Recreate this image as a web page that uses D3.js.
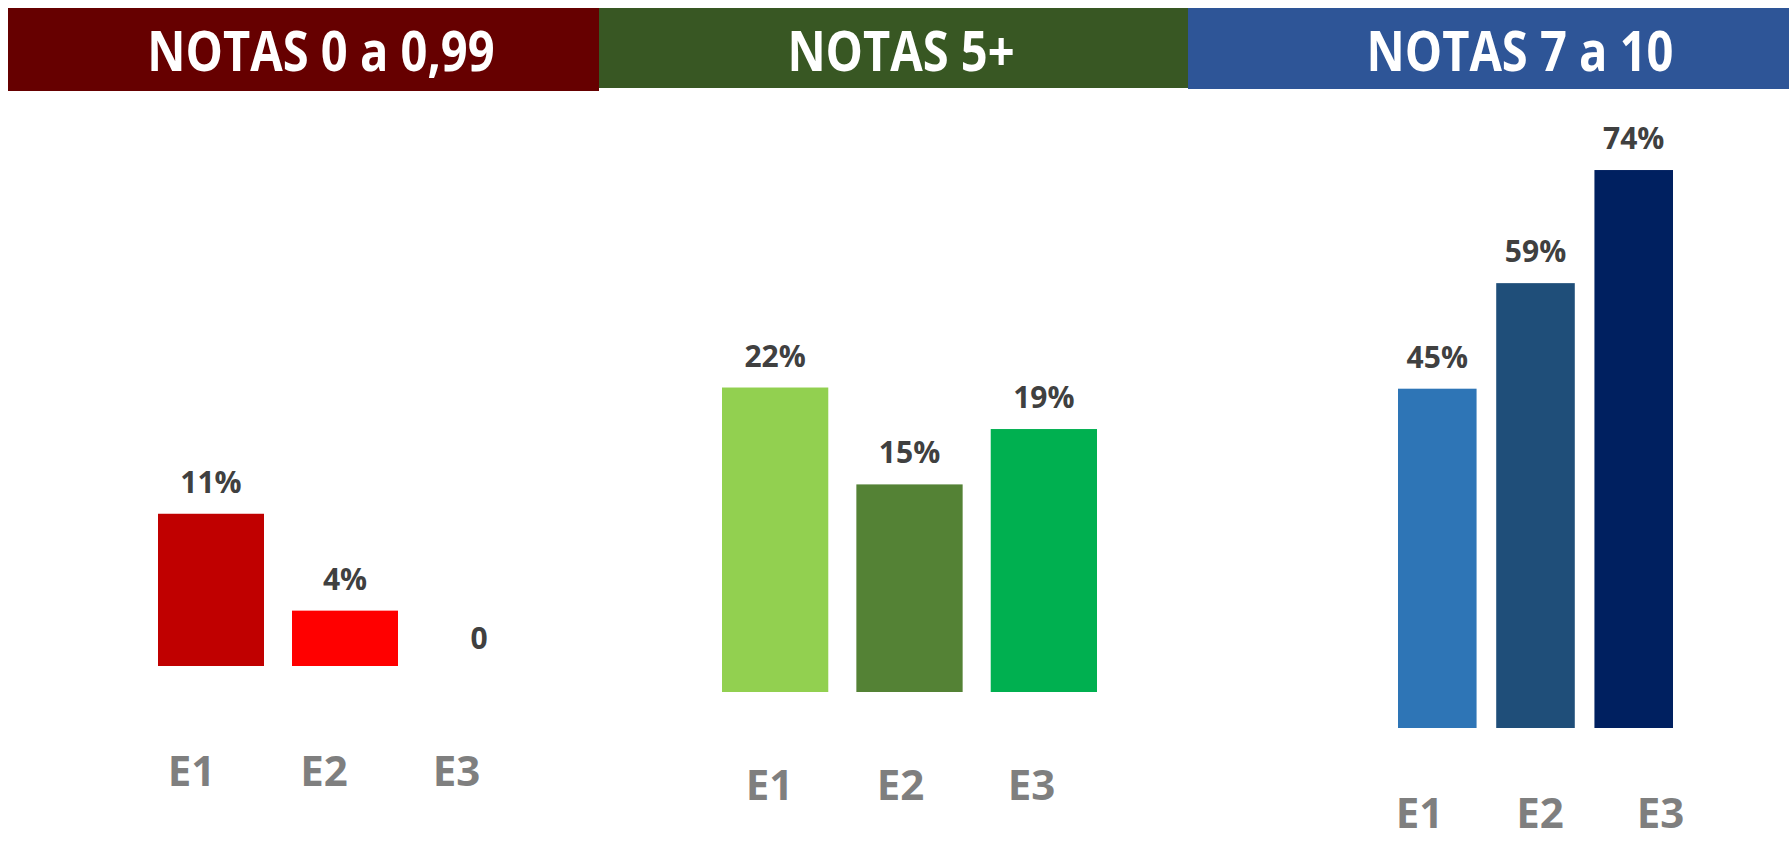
<!DOCTYPE html>
<html>
<head>
<meta charset="utf-8">
<script src="https://cdn.jsdelivr.net/npm/d3@7"></script>
<style>
  body { margin: 0; background: #fff; }
  svg { display: block; }
</style>
</head>
<body>
<div id="chart"></div>
<script>

// Data
const panelTitles = [ 'NOTAS 0 a 0,99', 'NOTAS 5+', 'NOTAS 7 a 10' ];
const stages = [ 'E1', 'E2', 'E3' ];
const notas0 = [ 11, 4, 0 ];     // % per stage, notas 0 a 0,99
const notas5 = [ 22, 15, 19 ];   // % per stage, notas 5+
const notas7 = [ 45, 59, 74 ];   // % per stage, notas 7 a 10

const headerColors = [ '#660000', '#385723', '#2e5597' ];
const barColors = [
  [ '#c00000', '#ff0000', '#ff0000' ],
  [ '#92d050', '#548235', '#00b050' ],
  [ '#2e75b6', '#1f4e79', '#002060' ]
];

const width = 1789, height = 842;

// Layout of each panel (pixels), separate from the data
const layout = [
  { hx: [ 8, 599 ],    hy: [ 8, 91 ], titleX: 321,  bx: [ 158, 532 ],   base: 666, k: 13.84, lx: [ 191, 456 ],   ly: 786, pad: 0.209 },
  { hx: [ 599, 1188 ], hy: [ 8, 88 ], titleX: 901,  bx: [ 722, 1097 ],  base: 692, k: 13.84, lx: [ 769, 1031 ],  ly: 800, pad: 0.209 },
  { hx: [ 1188, 1789 ], hy: [ 8, 89 ], titleX: 1520, bx: [ 1398, 1673 ], base: 728, k: 7.54,  lx: [ 1419, 1660 ], ly: 828, pad: 0.2 }
];

const series = [ notas0, notas5, notas7 ];

const svg = d3.select( '#chart' )
  .append( 'svg' )
    .attr( 'width', width )
    .attr( 'height', height );

series.forEach( function( values, i ) {
  const L = layout[i];
  const data = stages.map( function( s, j ) { return { stage: s, value: values[j], color: barColors[i][j] }; } );

  // Header band
  svg.append( 'rect' )
    .attr( 'x', L.hx[0] )
    .attr( 'y', L.hy[0] )
    .attr( 'width', L.hx[1] - L.hx[0] )
    .attr( 'height', L.hy[1] - L.hy[0] )
    .attr( 'fill', headerColors[i] );

  const title = svg.append( 'text' )
    .attr( 'x', L.titleX )
    .attr( 'y', 71 )
    .attr( 'text-anchor', 'middle' )
    .style( 'font-family', '"Open Sans", sans-serif' )
    .style( 'font-weight', 700 )
    .style( 'font-size', '55px' )
    .style( 'fill', '#fff' )
    .text( panelTitles[i] );
  // condense like Calibri
  const tw = title.node().getComputedTextLength();
  title.attr( 'textLength', tw * 0.855 ).attr( 'lengthAdjust', 'spacingAndGlyphs' );

  // Scales
  const x = d3.scaleBand()
    .domain( stages )
    .range( L.bx )
    .paddingInner( L.pad )
    .paddingOuter( 0 );

  const y = d3.scaleLinear()
    .domain( [ 0, 100 ] )
    .range( [ L.base, L.base - 100 * L.k ] );

  // Bars
  svg.append( 'g' )
    .selectAll( 'rect' )
    .data( data.filter( function( d ) { return d.value > 0; } ) )
    .enter()
    .append( 'rect' )
      .attr( 'x', function( d ) { return x( d.stage ); } )
      .attr( 'y', function( d ) { return y( d.value ); } )
      .attr( 'width', x.bandwidth() )
      .attr( 'height', function( d ) { return y( 0 ) - y( d.value ); } )
      .attr( 'fill', function( d ) { return d.color; } );

  // Value labels
  svg.append( 'g' )
    .selectAll( 'text' )
    .data( data )
    .enter()
    .append( 'text' )
      .attr( 'x', function( d ) { return x( d.stage ) + x.bandwidth() / 2; } )
      .attr( 'y', function( d ) { return y( d.value ) - ( d.value > 0 ? 21 : 17 ); } )
      .attr( 'text-anchor', 'middle' )
      .style( 'font-family', '"Open Sans", sans-serif' )
      .style( 'font-weight', 700 )
      .style( 'font-size', '30px' )
      .style( 'fill', '#404040' )
      .text( function( d ) { return d.value > 0 ? d.value + '%' : '0'; } );

  // Category axis (labels sit a little off the bars, as in the original)
  const xl = d3.scalePoint()
    .domain( stages )
    .range( L.lx );

  const axis = svg.append( 'g' )
    .attr( 'transform', 'translate(0,' + L.ly + ')' )
    .call( d3.axisBottom( xl ).tickSize( 0 ).tickPadding( 0 ) );
  axis.select( '.domain' ).remove();
  axis.selectAll( 'text' )
    .attr( 'y', 0 )
    .attr( 'dy', null )
    .style( 'font-family', '"Open Sans", sans-serif' )
    .style( 'font-weight', 700 )
    .style( 'font-size', '42px' )
    .style( 'fill', '#7f7f7f' );
} );

</script>
</body>
</html>
